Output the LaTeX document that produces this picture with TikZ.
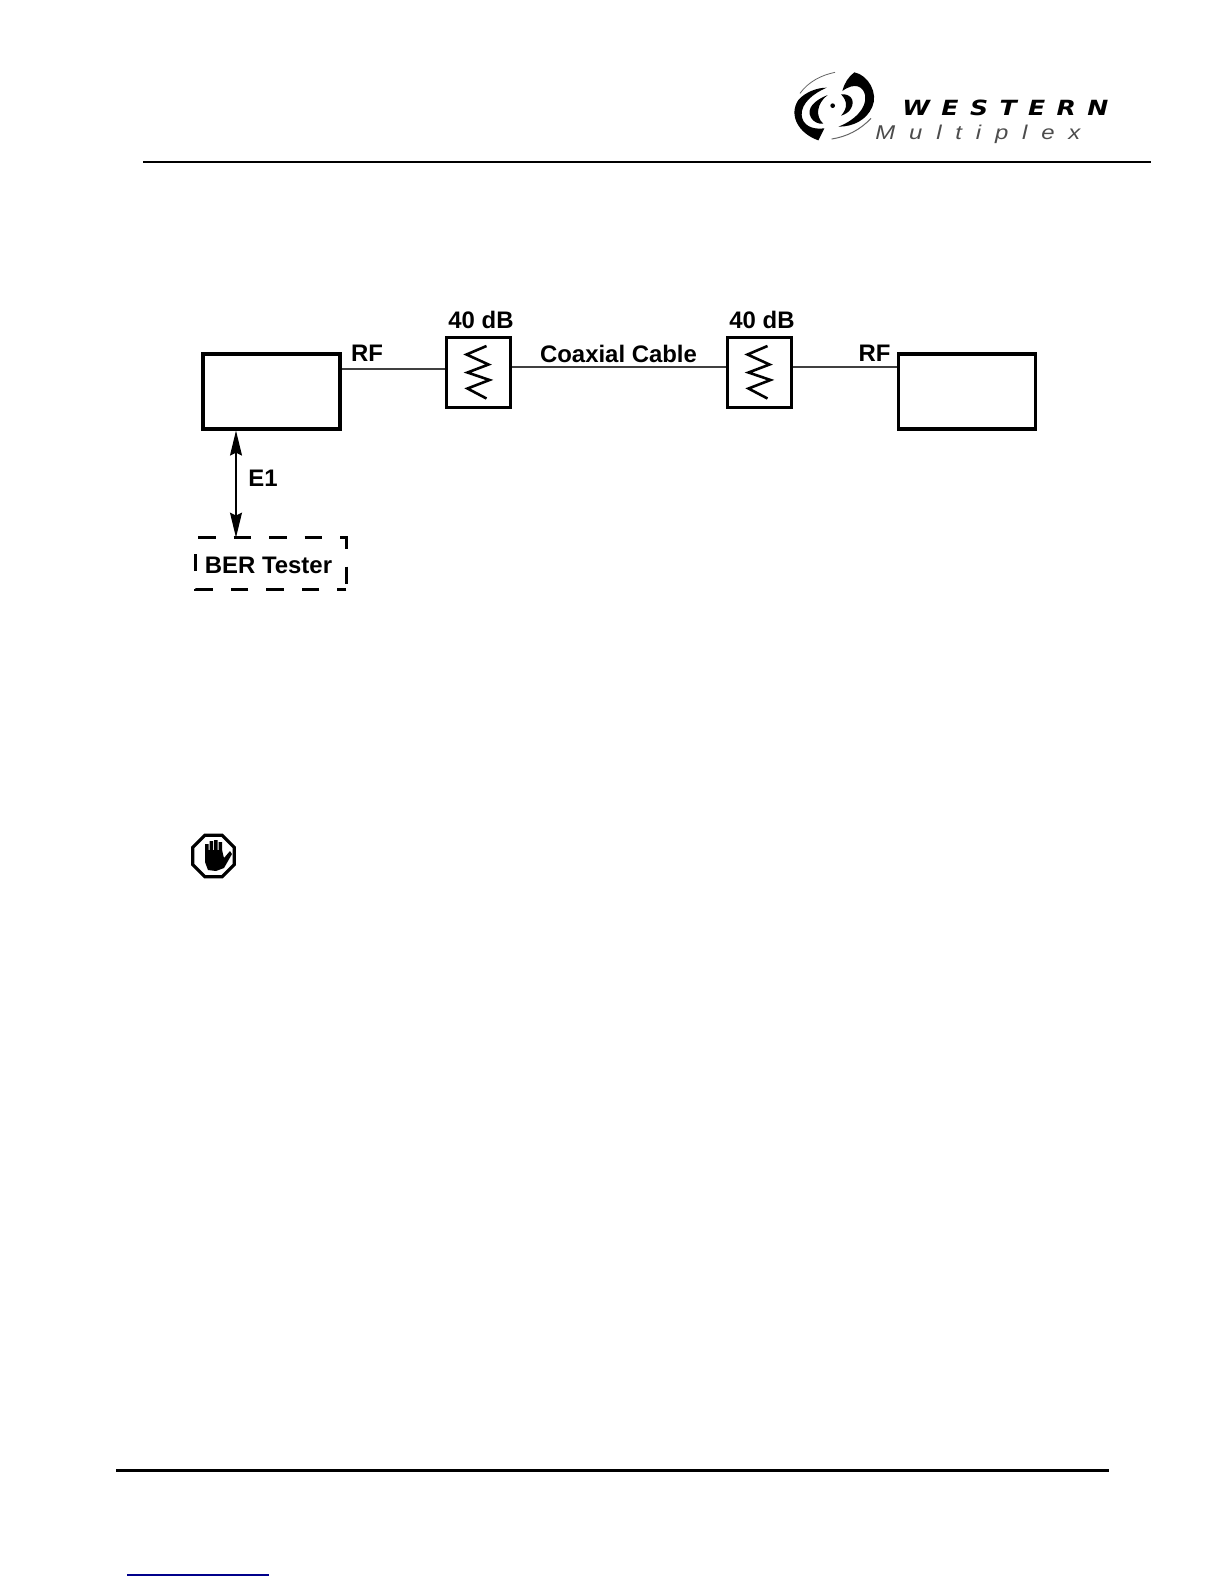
\documentclass[tikz,border=0pt]{standalone}
\usepackage{xcolor}
\usepackage{tikz}
\usepackage{fontspec}
\setmainfont{Liberation Sans}
\newfontfamily\logofont[FakeStretch=1.2]{DejaVu Sans}
\newfontfamily\logolight[FakeStretch=1.2]{Liberation Sans}
\usetikzlibrary{arrows.meta, positioning, shapes.geometric, calc}
\definecolor{wmLink}{RGB}{0,0,139}
\tikzset{
    radiobox/.style={draw, line width=1.6pt, minimum width=68.5bp, minimum height=37.5bp, inner sep=0pt},
    attbox/.style={draw, line width=1.5pt, minimum width=32bp, minimum height=35bp, inner sep=0pt},
    lbl/.style={font=\fontsize{12}{14}\selectfont\bfseries, inner sep=0pt},
    feed/.style={line width=0.7pt, black!75},
    zig/.style={line width=1.3pt, line join=miter},
    rule/.style={line width=1.5pt},
    dashside/.style={line width=1.4pt, dash pattern=on 8.75bp off 9bp}
}
\begin{document}
\begin{tikzpicture}[x=0.5bp, y=-0.5bp]
    \useasboundingbox (0,0) rectangle (1224,1584);
    % header and footer rules
    \coordinate (hdrL) at (143,162);
    \coordinate (hdrR) at (1151,162);
    \coordinate (ftrL) at (116,1470);
    \coordinate (ftrR) at (1109,1470);
    \draw[rule] (hdrL) -- (hdrR);
    \draw[rule] (ftrL) -- (ftrR);
    \coordinate (lnkL) at (127,1575);
    \coordinate (lnkR) at (269,1575);
    \draw[wmLink, line width=0.6pt] (lnkL) -- (lnkR);
    % logo, in crop units
    \begin{scope}[shift={(785,65)}, x=0.1667bp, y=-0.1667bp]
        \fill (143,122) circle (7);
        \fill (208,22) .. controls (250,30) and (280,85) .. (262,125) .. controls (245,165) and (205,185) .. (160,185) .. controls (205,168) and (248,130) .. (240,90) .. controls (235,65) and (210,50) .. (172,78) .. controls (178,55) and (190,35) .. (208,22) -- cycle;
        \fill (168,88) .. controls (195,85) and (212,105) .. (198,130) .. controls (192,142) and (180,148) .. (168,152) .. controls (188,130) and (188,108) .. (168,88) -- cycle;
        \fill (100,226) .. controls (40,205) and (10,150) .. (40,105) .. controls (60,82) and (95,68) .. (125,68) .. controls (85,85) and (48,115) .. (50,150) .. controls (52,180) and (80,195) .. (118,190) .. controls (113,200) and (106,214) .. (100,226) -- cycle;
        \fill (128,90) .. controls (90,105) and (62,130) .. (78,158) .. controls (85,170) and (100,178) .. (115,176) .. controls (90,155) and (95,115) .. (128,90) -- cycle;
        \draw[line width=0.4pt, black!60] (150,22) .. controls (110,30) and (70,50) .. (45,85);
        \draw[line width=0.5pt, black!60] (258,160) .. controls (225,195) and (185,215) .. (140,222);
    \end{scope}
    \node[font=\fontsize{10.5}{12}\logofont\bfseries\itshape, anchor=base west, inner sep=0pt] (logoA) at (902,115.5) {\makebox[103bp][s]{W\hfill E\hfill S\hfill T\hfill E\hfill R\hfill N}};
    \node[font=\fontsize{10}{12}\logolight\itshape, anchor=base west, inner sep=0pt, text=black!70] (logoB) at (875,139) {\makebox[102.5bp][s]{M\hfill u\hfill l\hfill t\hfill i\hfill p\hfill l\hfill e\hfill x}};
    % radios and attenuators
    \node[radiobox] (radioA) at (271.5,391.5) {};
    \node[radiobox] (radioB) at (967,391.5) {};
    \node[attbox] (attA) at (478.5,372.5) {};
    \node[attbox] (attB) at (759.5,372.5) {};
    \node[lbl] at (481,320) {40 dB};
    \node[lbl] at (762,320) {40 dB};
    \node[lbl] at (367,353) {RF};
    \node[lbl] at (874.5,353) {RF};
    \node[lbl] at (618.5,354) {Coaxial Cable};
    \node[lbl] at (263,478) {E1};
    % zigzags
    \foreach \att in {attA,attB} {
        \draw[zig] ($(\att.center)+(8,-26.5)$) -- ($(\att.center)+(-12,-18)$) -- ($(\att.center)+(10,-8)$) -- ($(\att.center)+(-11,0)$) -- ($(\att.center)+(11,7.5)$) -- ($(\att.center)+(-11,16)$) -- ($(\att.center)+(8,26)$);
    }
    % feeders
    \coordinate (rfLeft) at (0,369);
    \coordinate (rfMid) at (0,367);
    \draw[feed] (radioA.east |- rfLeft) -- (attA.west |- rfLeft);
    \draw[feed] (attA.east |- rfMid) -- (attB.west |- rfMid);
    \draw[feed] (attB.east |- rfMid) -- (radioB.west |- rfMid);
    % tester
    \node[minimum width=75bp, minimum height=25.5bp, inner sep=0pt] (tester) at (271,563.5) {};
    \node[lbl] at (268.5,565) {BER Tester};
    \draw[dashside, dash phase=16.55bp] (tester.north west) -- (tester.north east) -- (tester.south east);
    \draw[dashside, dash phase=4.2bp] (tester.south east) -- (tester.south west) -- (tester.north west);
    \coordinate (eTop) at (236,0);
    \draw[{Stealth[length=12.5bp, width=6bp, inset=1.5bp]}-{Stealth[length=12.5bp, width=6bp, inset=1.5bp]}, line width=0.7pt] (radioA.south -| eTop) -- (tester.north -| eTop);
    % stop sign
    \node[regular polygon, regular polygon sides=8, draw, line width=1.6pt, minimum size=22.5bp, inner sep=0pt] (stopsign) at (213.5,856) {};
    \fill (205,844) rectangle (208.5,856) (209.5,841) rectangle (213,856) (214,840) rectangle (217.5,856) (218.5,842) rectangle (222,856);
    \fill (205,850) -- (222,850) -- (224,858) -- (230,851) -- (232,854) -- (224,868) -- (216,871) -- (208,870) -- (205,862) -- cycle;
\end{tikzpicture}
\end{document}
